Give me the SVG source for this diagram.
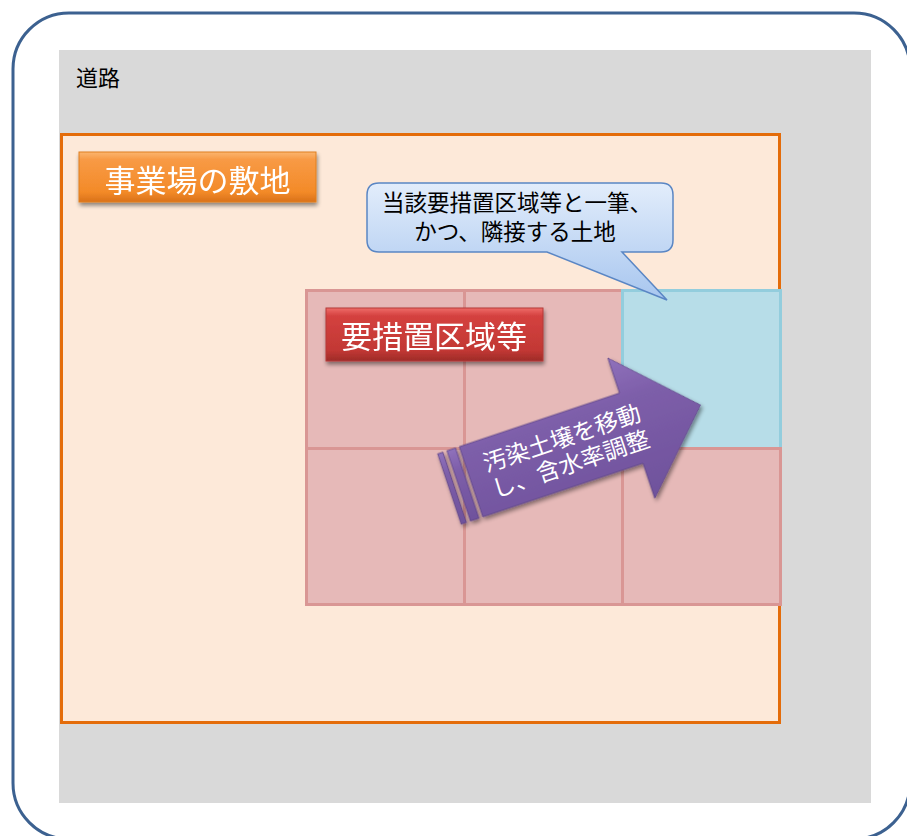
<svg xmlns="http://www.w3.org/2000/svg" width="907" height="836" viewBox="0 0 907 836">
<defs>
<style>
.jp{font-family:"Noto Sans CJK JP","Noto Sans CJK SC",sans-serif;}
.wt{fill:#ffffff;}
.cell{fill:#e6b9b8;stroke:#d99694;stroke-width:3;}
</style>
<linearGradient id="gOr" x1="0" y1="0" x2="0" y2="1">
<stop offset="0" stop-color="#fbb56f"/><stop offset="0.15" stop-color="#f89a45"/><stop offset="0.8" stop-color="#f38a28"/><stop offset="1" stop-color="#d9711a"/>
</linearGradient>
<linearGradient id="gRd" x1="0" y1="0" x2="0" y2="1">
<stop offset="0" stop-color="#ef6b68"/><stop offset="0.15" stop-color="#d4413f"/><stop offset="0.8" stop-color="#c23834"/><stop offset="1" stop-color="#9e2b28"/>
</linearGradient>
<linearGradient id="gBl" x1="0" y1="0" x2="0" y2="1">
<stop offset="0" stop-color="#e2edfb"/><stop offset="1" stop-color="#a8c6ef"/>
</linearGradient>
<linearGradient id="gPu" x1="0" y1="0" x2="0" y2="1">
<stop offset="0" stop-color="#8f71bb"/><stop offset="0.3" stop-color="#7d5ea9"/><stop offset="1" stop-color="#6f529c"/>
</linearGradient>
<filter id="sh" x="-10%" y="-20%" width="130%" height="160%">
<feGaussianBlur in="SourceAlpha" stdDeviation="2"/><feOffset dx="1" dy="3" result="b"/>
<feComponentTransfer><feFuncA type="linear" slope="0.45"/></feComponentTransfer>
<feMerge><feMergeNode/><feMergeNode in="SourceGraphic"/></feMerge>
</filter>
</defs>
<rect x="0" y="0" width="907" height="836" fill="#ffffff"/>
<g id="frame">
<rect x="13" y="13" width="897" height="826" rx="56" ry="56" fill="#ffffff" stroke="#3c6190" stroke-width="3"/>
</g>
<g id="road">
<rect x="59" y="50" width="812" height="753" fill="#d9d9d9"/>
<text class="jp" x="76" y="86" font-size="22" fill="#000000">道路</text>
</g>
<g id="site">
<rect x="61.5" y="134.5" width="718" height="588" fill="#fde9d9" stroke="#e46c0a" stroke-width="3"/>
</g>
<g id="site-label" filter="url(#sh)">
<rect x="79" y="152" width="237" height="50" fill="url(#gOr)" stroke="#e0801f" stroke-width="1"/>
<text class="jp wt" x="197.5" y="192" font-size="31" text-anchor="middle">事業場の敷地</text>
</g>
<g id="grid">
<rect class="cell" x="306.5" y="290.5" width="158" height="158"/>
<rect class="cell" x="464.5" y="290.5" width="158" height="158"/>
<rect x="622.5" y="290.5" width="158" height="158" fill="#b7dde8" stroke="#93cddd" stroke-width="3"/>
<rect class="cell" x="306.5" y="448.5" width="158" height="156"/>
<rect class="cell" x="464.5" y="448.5" width="158" height="156"/>
<rect class="cell" x="622.5" y="448.5" width="158" height="156"/>
</g>
<g id="zone-label" filter="url(#sh)">
<rect x="326" y="308" width="217" height="53" fill="url(#gRd)" stroke="#b33b38" stroke-width="1"/>
<text class="jp wt" x="434" y="348" font-size="31" text-anchor="middle">要措置区域等</text>
</g>
<g id="callout">
<path d="M379,183 H661 Q673,183 673,195 V240 Q673,252 661,252 H622 L667,300 L547,252 H379 Q367,252 367,240 V195 Q367,183 379,183 Z" fill="url(#gBl)" stroke="#5a86c4" stroke-width="1.5"/>
<text class="jp" x="517" y="211" font-size="22.5" text-anchor="middle" fill="#000000">当該要措置区域等と一筆、</text>
<text class="jp" x="515" y="240" font-size="22.5" text-anchor="middle" fill="#000000">かつ、隣接する土地</text>
</g>
<g id="connectors">
<g id="move-arrow" transform="translate(459.3,446.7) rotate(-18.5)">
<g filter="url(#sh)">
<rect x="-22.8" y="0" width="5.5" height="74" fill="url(#gPu)" stroke="#5e4487" stroke-width="0.8"/>
<rect x="-13" y="0" width="9" height="74" fill="url(#gPu)" stroke="#5e4487" stroke-width="0.8"/>
<path d="M0,0 H169 V-37 L242,37 L169,111 V74 H0 Z" fill="url(#gPu)" stroke="#5e4487" stroke-width="0.8"/>
</g>
<text class="jp wt" x="100" y="33" font-size="23.5" text-anchor="middle">汚染土壌を移動</text>
<text class="jp wt" x="100" y="60" font-size="23.5" text-anchor="middle">し、含水率調整</text>
</g>
</g>
</svg>
